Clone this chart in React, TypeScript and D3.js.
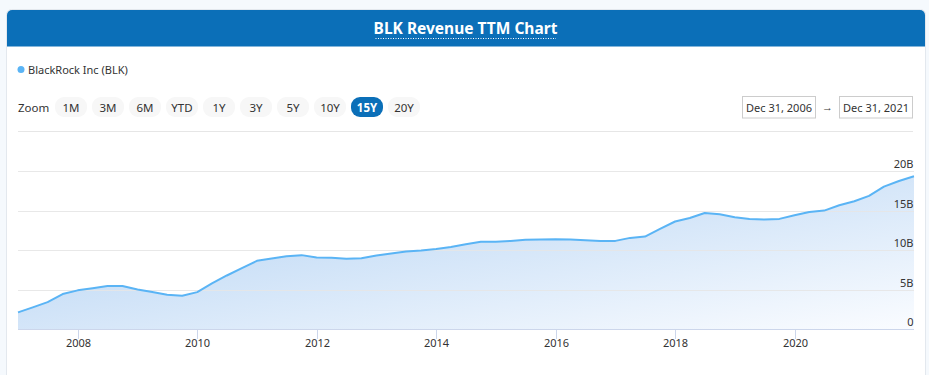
import React from "react";
import * as d3 from "d3";

const W = 929;
const H = 375;

const title = "BLK Revenue TTM Chart";
const seriesName = "BlackRock Inc (BLK)";
const zoomButtons = ["1M", "3M", "6M", "YTD", "1Y", "3Y", "5Y", "10Y", "15Y", "20Y"];
const selectedZoom = "15Y";
const startLabel = "Dec 31, 2006";
const endLabel = "Dec 31, 2021";

// Quarter-end dates, Dec 2006 .. Dec 2021
const quarterDates: string[] = [
  "2006-12-31", "2007-03-31", "2007-06-30", "2007-09-30",
  "2007-12-31", "2008-03-31", "2008-06-30", "2008-09-30",
  "2008-12-31", "2009-03-31", "2009-06-30", "2009-09-30",
  "2009-12-31", "2010-03-31", "2010-06-30", "2010-09-30",
  "2010-12-31", "2011-03-31", "2011-06-30", "2011-09-30",
  "2011-12-31", "2012-03-31", "2012-06-30", "2012-09-30",
  "2012-12-31", "2013-03-31", "2013-06-30", "2013-09-30",
  "2013-12-31", "2014-03-31", "2014-06-30", "2014-09-30",
  "2014-12-31", "2015-03-31", "2015-06-30", "2015-09-30",
  "2015-12-31", "2016-03-31", "2016-06-30", "2016-09-30",
  "2016-12-31", "2017-03-31", "2017-06-30", "2017-09-30",
  "2017-12-31", "2018-03-31", "2018-06-30", "2018-09-30",
  "2018-12-31", "2019-03-31", "2019-06-30", "2019-09-30",
  "2019-12-31", "2020-03-31", "2020-06-30", "2020-09-30",
  "2020-12-31", "2021-03-31", "2021-06-30", "2021-09-30",
  "2021-12-31",
];

// Revenue TTM in billions USD
const revenueB: number[] = [
  2.14, 2.77, 3.44, 4.45,
  4.92, 5.2, 5.46, 5.46,
  5.04, 4.7, 4.37, 4.24,
  4.7, 5.8, 6.8, 7.73,
  8.65, 8.95, 9.24, 9.37,
  9.08, 9.03, 8.9, 8.99,
  9.33, 9.58, 9.84, 9.96,
  10.16, 10.4, 10.75, 11.05,
  11.05, 11.17, 11.3, 11.34,
  11.38, 11.34, 11.26, 11.17,
  11.17, 11.55, 11.72, 12.69,
  13.62, 14.07, 14.7, 14.54,
  14.16, 13.95, 13.87, 13.95,
  14.41, 14.83, 15.0, 15.67,
  16.18, 16.85, 18.03, 18.74,
  19.33,
];

const yTicks = [0, 5, 10, 15, 20];
const xTickYears = [2008, 2010, 2012, 2014, 2016, 2018, 2020];

const FONT = "'Noto Sans', 'Open Sans', sans-serif";

export default function App() {
  const plotL = 18;
  const plotR = 914;
  const plotTop = 171;
  const plotBottom = 329.3;

  const parse = d3.timeParse("%Y-%m-%d");
  const data = quarterDates.map((d, i) => ({ date: parse(d) as Date, v: revenueB[i] }));

  const x = d3
    .scaleTime()
    .domain([data[0].date, data[data.length - 1].date])
    .range([plotL, plotR]);
  const y = d3.scaleLinear().domain([0, 20]).range([plotBottom, plotTop]);

  const line = d3
    .line<{ date: Date; v: number }>()
    .x((d) => x(d.date))
    .y((d) => y(d.v));
  const area = d3
    .area<{ date: Date; v: number }>()
    .x((d) => x(d.date))
    .y0(y(0))
    .y1((d) => y(d.v));

  const btnW = 32;
  const btnStep = 37;
  const btnX0 = 55;

  return (
    <div style={{ position: "fixed", left: 0, top: 0, width: W, height: H }}>
      <svg width={W} height={H} style={{ display: "block", fontFamily: FONT }}>
        <defs>
          <linearGradient id="areaGrad" x1="0" y1="0" x2="1" y2="1">
            <stop offset="0" stopColor="#aecff2" />
            <stop offset="1" stopColor="#fafcff" />
          </linearGradient>
          <clipPath id="cardClip">
            <rect x={7} y={10} width={918} height={380} rx={5} />
          </clipPath>
        </defs>
        <rect x={0} y={0} width={W} height={H} fill="#f5f9fd" />
        {/* card */}
        <rect x={6.5} y={9.5} width={919} height={380} rx={5} fill="#ffffff" stroke="#e3e8ee" />
        <rect x={7} y={10} width={918} height={36.5} fill="#0b6fb8" clipPath="url(#cardClip)" />
        <text
          x={465.5}
          y={34}
          textAnchor="middle"
          fill="#ffffff"
          fontWeight="bold"
          fontSize={15.5}
        >
          {title}
        </text>
        <line x1={375.5} x2={556} y1={38.5} y2={38.5} stroke="#ffffff" strokeDasharray="1,1.5" />

        {/* legend */}
        <circle cx={21} cy={69.5} r={3.5} fill="#5ab4f5" />
        <text x={28} y={73.5} fontSize={11} fill="#333333">
          {seriesName}
        </text>

        {/* zoom buttons */}
        <text x={18} y={111.5} fontSize={11.5} fill="#333333">
          Zoom
        </text>
        {zoomButtons.map((b, i) => {
          const bx = btnX0 + i * btnStep;
          const sel = b === selectedZoom;
          return (
            <g key={b}>
              <rect x={bx} y={97} width={btnW} height={20} rx={9} fill={sel ? "#0b6fb8" : "#f7f7f7"} />
              <text
                x={bx + btnW / 2}
                y={111.5}
                textAnchor="middle"
                fontSize={11.5}
                fontWeight={sel ? "bold" : "normal"}
                fill={sel ? "#ffffff" : "#333333"}
              >
                {b}
              </text>
            </g>
          );
        })}

        {/* date range inputs */}
        <rect x={742.5} y={96.5} width={73} height={21.5} fill="#ffffff" stroke="#cccccc" />
        <text x={779} y={111.5} textAnchor="middle" fontSize={11} fill="#333333">
          {startLabel}
        </text>
        <text x={827.5} y={111} textAnchor="middle" fontSize={11} fontWeight="bold" fill="#333333">
          →
        </text>
        <rect x={839.5} y={96.5} width={73} height={21.5} fill="#ffffff" stroke="#cccccc" />
        <text x={876} y={111.5} textAnchor="middle" fontSize={11} fill="#333333">
          {endLabel}
        </text>
        <line x1={18} x2={913} y1={131.5} y2={131.5} stroke="#e6e6e6" />

        {/* area + line */}
        <path d={area(data) ?? ""} fill="url(#areaGrad)" />

        {/* grid lines */}
        {yTicks.map((t) =>
          t === 0 ? null : (
            <line
              key={t}
              x1={plotL}
              x2={plotR}
              y1={Math.round(y(t)) + 0.5}
              y2={Math.round(y(t)) + 0.5}
              stroke="#e6e6e6"
              strokeOpacity={0.9}
            />
          )
        )}
        <path d={line(data) ?? ""} fill="none" stroke="#5ab4f5" strokeWidth={2} strokeLinejoin="round" />

        {/* y labels */}
        {yTicks.map((t) => (
          <text key={t} x={913.5} y={y(t) - 3} textAnchor="end" fontSize={11} fill="#333333">
            {t === 0 ? "0" : `${t}B`}
          </text>
        ))}

        {/* x axis */}
        <line x1={plotL} x2={plotR} y1={329.5} y2={329.5} stroke="#ccd6eb" />
        {xTickYears.map((yr) => {
          const tx = Math.round(x(new Date(yr, 0, 1))) + 0.5;
          return (
            <g key={yr}>
              <line x1={tx} x2={tx} y1={329.5} y2={339} stroke="#ccd6eb" />
              <text x={tx} y={346.5} textAnchor="middle" fontSize={11} fill="#333333">
                {yr}
              </text>
            </g>
          );
        })}
      </svg>
    </div>
  );
}
